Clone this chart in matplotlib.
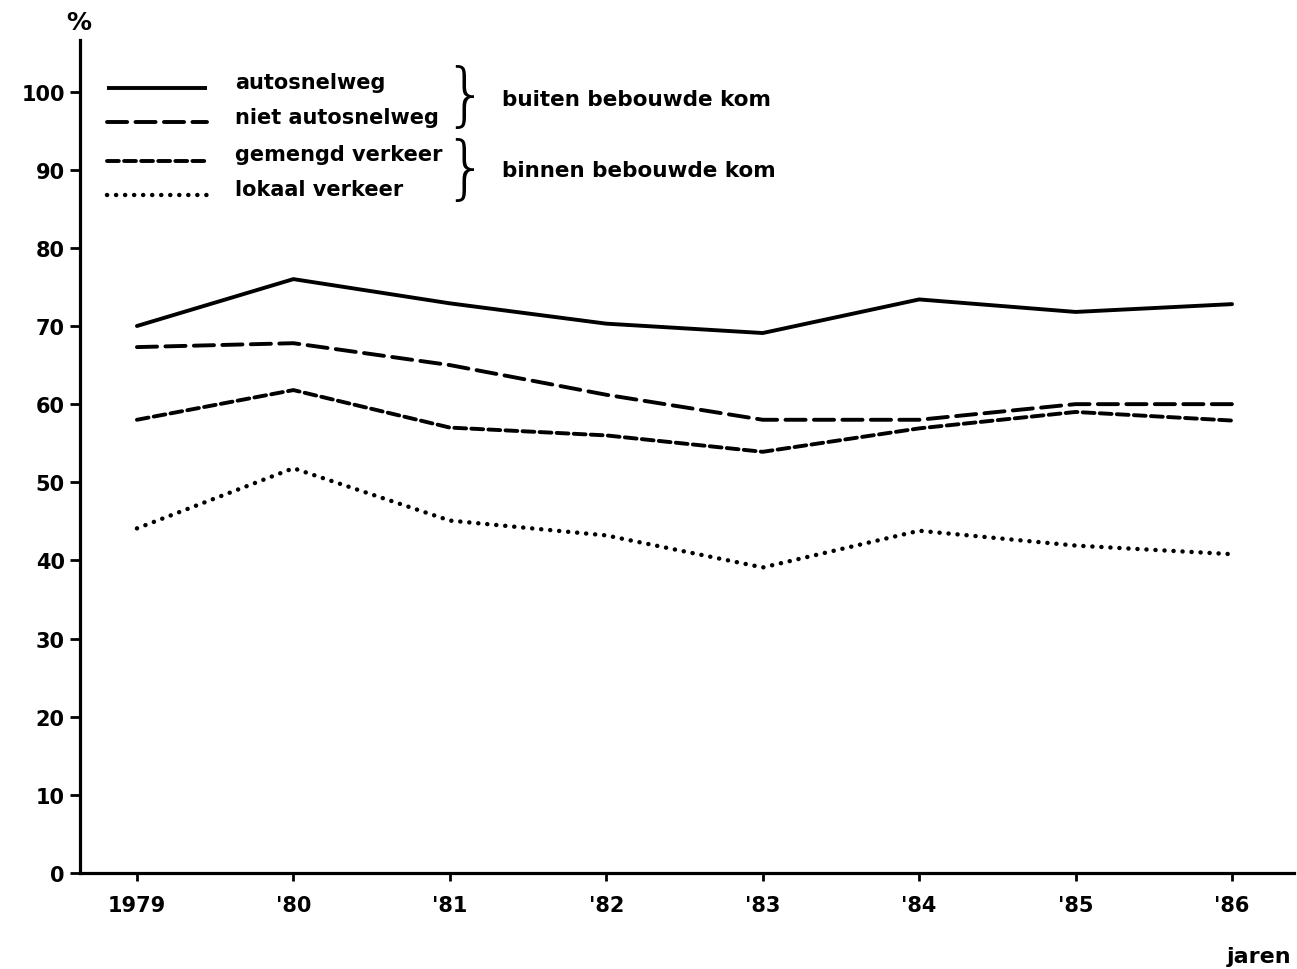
import matplotlib
matplotlib.use("Agg")
import matplotlib.pyplot as plt
from matplotlib.lines import Line2D

plt.rcParams['font.family'] = ['DejaVu Sans']
plt.rcParams['font.weight'] = 'bold'
plt.rcParams['lines.scale_dashes'] = False

years = ['1979', "'80", "'81", "'82", "'83", "'84", "'85", "'86"]
autosnelweg = [70.0, 76.0, 72.9, 70.3, 69.1, 73.4, 71.8, 72.8]
niet_autosnelweg = [67.3, 67.8, 65.0, 61.2, 58.0, 58.0, 60.0, 60.0]
gemengd_verkeer = [58.0, 61.8, 57.0, 56.0, 53.9, 56.9, 59.0, 57.9]
lokaal_verkeer = [44.1, 51.8, 45.1, 43.2, 39.1, 43.8, 41.9, 40.8]
series_labels = ['autosnelweg', 'niet autosnelweg', 'gemengd verkeer', 'lokaal verkeer']
group_labels = ['buiten bebouwde kom', 'binnen bebouwde kom']
yticks = [0, 10, 20, 30, 40, 50, 60, 70, 80, 90, 100]

W, H = 1297, 970
fig = plt.figure(figsize=(W / 100, H / 100), dpi=100)
x0, x1 = 80, 1294
ybot, ytop = 874, 41
ax = fig.add_axes([x0 / W, 1 - ybot / H, (x1 - x0) / W, (ybot - ytop) / H])

styles = [
    dict(linestyle='-', lw=2.8),
    dict(dashes=(14.5, 6.0), lw=2.8, dash_capstyle='round'),
    dict(dashes=(8.5, 3.8), lw=2.8, dash_capstyle='round'),
    dict(dashes=(0.1, 6.4), lw=3.2, dash_capstyle='round'),
]
xs = list(range(len(years)))
for vals, st in zip([autosnelweg, niet_autosnelweg, gemengd_verkeer, lokaal_verkeer], styles):
    ax.plot(xs, vals, color='black', solid_capstyle='round', **st)

ax.set_xlim(-0.364, 7.396)
ax.set_ylim(0, 106.6)
ax.set_xticks(xs)
ax.set_xticklabels(years, fontsize=15, fontweight='bold')
ax.set_yticks(yticks)
ax.set_yticklabels([str(t) for t in yticks], fontsize=15, fontweight='bold')
for s in ['top', 'right']:
    ax.spines[s].set_visible(False)
for s in ['left', 'bottom']:
    ax.spines[s].set_linewidth(2.3)
ax.tick_params(axis='y', direction='out', length=7, width=2.0, pad=4)
ax.tick_params(axis='x', direction='out', length=6, width=2.0, pad=10)

# axis labels
fig.text(79 / W, 1 - 23 / H, '%', fontsize=18, fontweight='bold', ha='center', va='center')
fig.text(1291 / W, 1 - 957 / H, 'jaren', fontsize=16, fontweight='bold', ha='right', va='center')

# legend
line_y = [89, 123, 162, 196]
text_y = [83, 118, 155, 190]
for ly, ty, st, lab in zip(line_y, text_y, styles, series_labels):
    fig.add_artist(Line2D([107 / W, 207 / W], [1 - ly / H, 1 - ly / H], color='black',
                          solid_capstyle='butt', transform=fig.transFigure, **st))
    fig.text(235 / W, 1 - ty / H, lab, fontsize=15, fontweight='bold', ha='left', va='center')

# braces
for cy in [99, 172]:
    fig.text(465 / W, 1 - cy / H, '}', fontsize=50, fontweight='light',
             family='DejaVu Sans', ha='center', va='center')
fig.text(502 / W, 1 - 100 / H, group_labels[0], fontsize=15.5, fontweight='bold', ha='left', va='center')
fig.text(502 / W, 1 - 171 / H, group_labels[1], fontsize=15.5, fontweight='bold', ha='left', va='center')

fig.savefig('out.png', dpi=100, facecolor='white')
